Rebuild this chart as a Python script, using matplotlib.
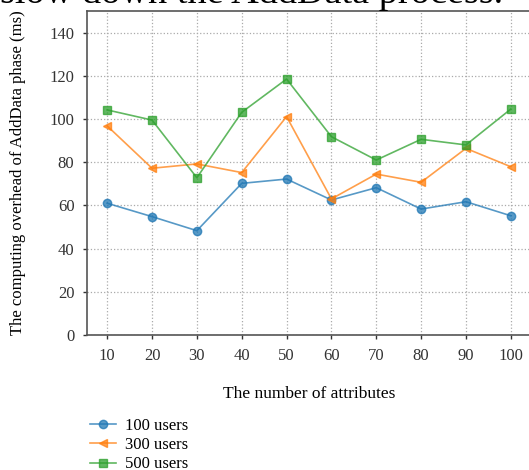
import numpy as np
import matplotlib
matplotlib.use("Agg")
import matplotlib.pyplot as plt

plt.rcParams["font.family"] = ["Liberation Serif", "DejaVu Serif"]

attributes = [10, 20, 30, 40, 50, 60, 70, 80, 90, 100]
users_100 = [61.0, 54.8, 48.3, 70.2, 72.2, 62.5, 68.2, 58.3, 61.7, 55.2]
users_300 = [96.8, 77.2, 79.2, 75.2, 101.1, 63.0, 74.5, 70.7, 86.4, 77.9]
users_500 = [104.2, 99.5, 72.8, 103.1, 118.5, 91.8, 81.0, 90.6, 88.0, 104.6]
labels = ["100 users", "300 users", "500 users"]
yticks = [0, 20, 40, 60, 80, 100, 120, 140]

fig = plt.figure(figsize=(5.29, 4.70), dpi=100)
ax = fig.add_axes([87/529, 135/470, 444/529, 324/470])

colors = ["#1f77b4", "#ff7f0e", "#2ca02c"]
markers = ["o", "<", "s"]
for ys, lab, c, m in zip([users_100, users_300, users_500], labels, colors, markers):
    ax.plot(attributes, ys, color=c, alpha=0.75, lw=1.2, marker=m,
            markersize=6, markerfacecolor=c, markeredgecolor=c, label=lab)

ax.set_xlim(5.5, 104.5)
ax.set_ylim(0, 150)
ax.set_xticks(attributes)
ax.set_yticks(yticks)
ax.grid(True, linestyle=":", color="#aaaaaa", lw=0.9)
ax.tick_params(labelsize=12, colors="#333333", length=3, width=1, pad=6)
for s in ax.spines.values():
    s.set_color("#555555")
    s.set_linewidth(1.2)

ax.set_xlabel("The number of attributes", fontsize=12.5, labelpad=16)
ax.set_ylabel("The computing overhead of AddData phase (ms)", fontsize=12, labelpad=17)

fig.legend(loc="upper left", bbox_to_anchor=(78/529, 1 - 406/470), frameon=False,
           fontsize=12, handlelength=1.6, handletextpad=0.5, labelspacing=0.2,
           borderpad=0.2)

fig.text(0.0, 1 - 3/470, "slow down the AddData process.", fontsize=27.5,
         ha="left", va="baseline")

fig.savefig("out.png", dpi=100)
